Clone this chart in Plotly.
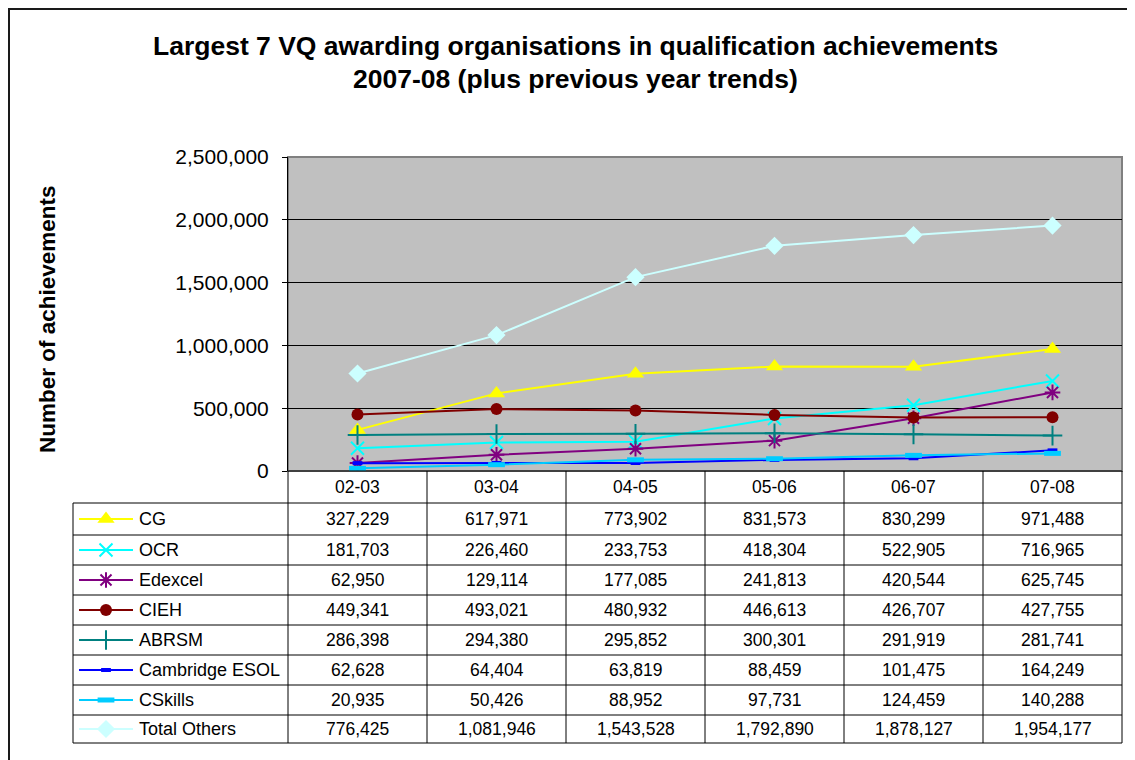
import plotly.graph_objects as go

W, H = 1135, 760
OFF = 8  # page body margin: figure origin sits at screen (8, 8)

# ---------------- data ----------------
categories = ["02-03", "03-04", "04-05", "05-06", "06-07", "07-08"]
series_names = ["CG", "OCR", "Edexcel", "CIEH", "ABRSM", "Cambridge ESOL", "CSkills", "Total Others"]
cg = [327229, 617971, 773902, 831573, 830299, 971488]
ocr = [181703, 226460, 233753, 418304, 522905, 716965]
edexcel = [62950, 129114, 177085, 241813, 420544, 625745]
cieh = [449341, 493021, 480932, 446613, 426707, 427755]
abrsm = [286398, 294380, 295852, 300301, 291919, 281741]
cambridge_esol = [62628, 64404, 63819, 88459, 101475, 164249]
cskills = [20935, 50426, 88952, 97731, 124459, 140288]
total_others = [776425, 1081946, 1543528, 1792890, 1878127, 1954177]
series_values = [cg, ocr, edexcel, cieh, abrsm, cambridge_esol, cskills, total_others]
y_ticks = [0, 500000, 1000000, 1500000, 2000000, 2500000]
title_lines = ["Largest 7 VQ awarding organisations in qualification achievements",
               "2007-08 (plus previous year trends)"]
y_title = "Number of achievements"

# ---------------- styles ----------------
styles = [
    dict(color="#FFFF00", symbol="triangle-up", size=15, lw=0),
    dict(color="#00FFFF", symbol="x-thin-open", size=13, lw=2),
    dict(color="#800080", symbol="asterisk-open", size=13, lw=2),
    dict(color="#800000", symbol="circle", size=12, lw=0),
    dict(color="#008080", symbol="cross-thin-open", size=14, lw=2),
    dict(color="#0000FF", symbol="line-ew-open", size=7, lw=4),
    dict(color="#00CCFF", symbol="line-ew-open", size=12, lw=5),
    dict(color="#CCFFFF", symbol="diamond", size=14, lw=0),
]
FONT = "Liberation Sans, Arial, sans-serif"

# screen-pixel layout of the reference
PX_L, PX_R, PX_T, PX_B = 288, 1122, 157, 471
TABLE_L = 73
row_bounds = [PX_B, 503, 535, 565, 595, 625, 655, 685, 715, 743]
ncat = len(categories)
colw = (PX_R - PX_L) / ncat


def px(x):
    return (x - OFF) / W


def py(y):
    return 1 - (y - OFF) / H


fig = go.Figure()

# main chart lines
for name, vals, st in zip(series_names, series_values, styles):
    mk = dict(color=st["color"], symbol=st["symbol"], size=st["size"])
    if st["lw"]:
        mk["line"] = dict(color=st["color"], width=st["lw"])
    fig.add_trace(go.Scatter(
        x=categories, y=vals, name=name, mode="lines+markers",
        line=dict(color=st["color"], width=2), marker=mk,
        xaxis="x", yaxis="y", showlegend=False, cliponaxis=False))

# legend keys inside the table (screen-pixel overlay axes)
for i, (name, st) in enumerate(zip(series_names, styles)):
    yc = (row_bounds[i + 1] + row_bounds[i + 2]) / 2
    fig.add_trace(go.Scatter(x=[79, 133], y=[yc, yc], mode="lines",
                             line=dict(color=st["color"], width=2),
                             xaxis="x2", yaxis="y2", showlegend=False, hoverinfo="skip"))
    mk = dict(color=st["color"], symbol=st["symbol"], size=st["size"])
    if st["lw"]:
        mk["line"] = dict(color=st["color"], width=st["lw"])
    fig.add_trace(go.Scatter(x=[106], y=[yc], mode="markers", marker=mk,
                             xaxis="x2", yaxis="y2", showlegend=False, hoverinfo="skip"))

shapes = []
# outer border
shapes.append(dict(type="rect", xref="paper", yref="paper", x0=px(9), y0=py(9), x1=px(1160), y1=py(790),
                   line=dict(color="#1a1a1a", width=2), layer="below"))
# plot area background
shapes.append(dict(type="rect", xref="paper", yref="paper", x0=px(PX_L), y0=py(PX_T), x1=px(PX_R),
                   y1=py(PX_B), fillcolor="#C0C0C0", line=dict(color="#808080", width=2), layer="below"))
# table horizontal lines
for k, yb in enumerate(row_bounds):
    x0 = PX_L if k == 0 else TABLE_L
    shapes.append(dict(type="line", xref="paper", yref="paper", x0=px(x0), x1=px(PX_R), y0=py(yb), y1=py(yb),
                       line=dict(color="#000000", width=1)))
# table vertical lines
for j in range(ncat + 1):
    xv = PX_L + j * colw
    shapes.append(dict(type="line", xref="paper", yref="paper", x0=px(xv), x1=px(xv), y0=py(PX_B),
                       y1=py(row_bounds[-1]), line=dict(color="#000000", width=1)))
shapes.append(dict(type="line", xref="paper", yref="paper", x0=px(TABLE_L), x1=px(TABLE_L),
                   y0=py(row_bounds[1]), y1=py(row_bounds[-1]), line=dict(color="#000000", width=1)))

annotations = []
for ln, yv in zip(title_lines, [46, 79]):
    annotations.append(dict(x=575, y=yv, xref="x2", yref="y2", text=ln, showarrow=False,
                            font=dict(family=FONT, size=26.5, color="#000", weight="bold"),
                            xanchor="center", yanchor="middle"))
annotations.append(dict(x=47, y=319, xref="x2", yref="y2", text=y_title, showarrow=False,
                        textangle=-90, font=dict(family=FONT, size=22.5, color="#000", weight="bold"),
                        xanchor="center", yanchor="middle"))
# header categories
for j, c in enumerate(categories):
    annotations.append(dict(x=PX_L + (j + 0.5) * colw, y=(row_bounds[0] + row_bounds[1]) / 2,
                            xref="x2", yref="y2", text=c, showarrow=False,
                            font=dict(family=FONT, size=17.5, color="#000"),
                            xanchor="center", yanchor="middle"))
# table body
for i, (name, vals) in enumerate(zip(series_names, series_values)):
    yc = (row_bounds[i + 1] + row_bounds[i + 2]) / 2
    annotations.append(dict(x=137, y=yc, xref="x2", yref="y2", text=name, showarrow=False,
                            font=dict(family=FONT, size=18, color="#000"),
                            xanchor="left", yanchor="middle"))
    for j, v in enumerate(vals):
        annotations.append(dict(x=PX_L + (j + 0.5) * colw, y=yc, xref="x2", yref="y2",
                                text=f"{v:,}", showarrow=False,
                                font=dict(family=FONT, size=17.5, color="#000"),
                                xanchor="center", yanchor="middle"))

fig.update_layout(
    width=W, height=H, autosize=False,
    margin=dict(l=0, r=0, t=0, b=0, pad=0, autoexpand=False),
    paper_bgcolor="#FFFFFF", plot_bgcolor="rgba(0,0,0,0)",
    font=dict(family=FONT, color="#000"),
    xaxis=dict(domain=[px(PX_L), px(PX_R)], range=[-0.5, ncat - 0.5], type="category",
               showticklabels=False, showgrid=False, zeroline=False, showline=False,
               ticks="", fixedrange=True, anchor="y", automargin=False),
    yaxis=dict(domain=[py(PX_B), py(PX_T)], range=[0, 2500000], tickvals=y_ticks,
               tickformat=",", showgrid=True, gridcolor="#000000", gridwidth=1,
               zeroline=False, showline=True, linecolor="#000000", linewidth=1,
               ticks="outside", ticklen=5, tickcolor="#000000",
               tickfont=dict(family=FONT, size=21, color="#000"), ticklabelstandoff=9,
               fixedrange=True, anchor="x", automargin=False),
    xaxis2=dict(domain=[0, 1], range=[OFF, OFF + W], visible=False, fixedrange=True, anchor="y2",
                automargin=False),
    yaxis2=dict(domain=[0, 1], range=[OFF + H, OFF], visible=False, fixedrange=True, anchor="x2",
                automargin=False),
    shapes=shapes, annotations=annotations, showlegend=False,
)

fig.write_html("out.html")
